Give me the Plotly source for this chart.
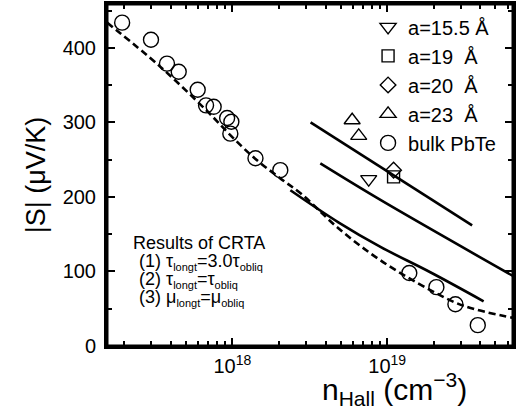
import plotly.graph_objects as go

# ---------------- data ----------------
# bulk PbTe
bulk_n = [1.94e17, 2.98e17, 3.78e17, 4.5e17, 5.97e17, 6.76e17, 7.57e17, 9.25e17,
          9.85e17, 9.7e17, 1.41e18, 2.04e18, 1.39e19, 2.08e19, 2.76e19, 3.85e19]
bulk_S = [434, 411, 379, 368, 344, 323, 321, 306, 301, 285, 252, 236, 98, 79, 56, 28]

a155_n = [7.6e18]
a155_S = [224]
a19_n = [1.1e19]
a19_S = [227]
a20_n = [1.1e19]
a20_S = [236]
a23_n = [5.94e18, 6.55e18]
a23_S = [303, 282]

# CRTA calculations
crta1_n = [2.37e18, 4.84e18, 9.05e18, 1.9e19, 4.2e19]
crta1_S = [209, 166, 133, 99, 60]
crta2_n = [3.7e18, 9.05e18, 6.5e19]
crta2_S = [245, 196, 94]
crta3_n = [3.2e18, 3.54e19]
crta3_S = [300, 162]

# dashed curve (bulk theory)
fit_n = [1.55e17, 3.33e17, 6.89e17, 9.7e17, 1.41e18, 2.04e18, 2.83e18, 4.84e18,
         9.05e18, 1.9e19, 3.11e19, 6.55e19]
fit_S = [434, 377, 315, 283, 251, 225, 203, 158, 115, 75, 54, 37.6]

# axis ticks
x_tickvals = [1e18, 1e19]
x_ticktext = ["10<sup>18</sup>", "10<sup>19</sup>"]
y_tickvals = [0, 100, 200, 300, 400]

FONT = "Liberation Sans, Arial, Helvetica, sans-serif"

fig = go.Figure()

line_style = dict(color="black", width=2.6)
fig.add_trace(go.Scatter(x=fit_n, y=fit_S, mode="lines", line_shape="spline",
                         line=dict(color="black", width=2.6, dash="7px,4px"),
                         showlegend=False, hoverinfo="skip"))
fig.add_trace(go.Scatter(x=crta1_n, y=crta1_S, mode="lines", line_shape="spline",
                         line=line_style, showlegend=False))
fig.add_trace(go.Scatter(x=crta2_n, y=crta2_S, mode="lines", line_shape="spline",
                         line=line_style, showlegend=False))
fig.add_trace(go.Scatter(x=crta3_n, y=crta3_S, mode="lines",
                         line=line_style, showlegend=False))

mk_line = dict(color="black", width=1.4)
fig.add_trace(go.Scatter(x=a155_n, y=a155_S, mode="markers", name="a=15.5 Å",
                         marker=dict(symbol="triangle-down-open", size=14, color="black", line=mk_line)))
fig.add_trace(go.Scatter(x=a19_n, y=a19_S, mode="markers", name="a=19\u00a0\u00a0Å",
                         marker=dict(symbol="square-open", size=12, color="black", line=mk_line)))
fig.add_trace(go.Scatter(x=a20_n, y=a20_S, mode="markers", name="a=20\u00a0\u00a0Å",
                         marker=dict(symbol="diamond-open", size=12, color="black", line=mk_line)))
fig.add_trace(go.Scatter(x=a23_n, y=a23_S, mode="markers", name="a=23\u00a0\u00a0Å",
                         marker=dict(symbol="triangle-up-open", size=14, color="black", line=mk_line)))
fig.add_trace(go.Scatter(x=bulk_n, y=bulk_S, mode="markers", name="bulk PbTe",
                         marker=dict(symbol="circle-open", size=15, color="black", line=mk_line)))

# curve labels
for xs, ys, lab, dx, dy in [(crta3_n, crta3_S, "(3)", 1, 2),
                            (crta2_n, crta2_S, "(2)", -3, 1),
                            (crta1_n, crta1_S, "(1)", -8, -10)]:
    fig.add_annotation(x=xs[0], y=ys[0], xref="x", yref="y", text=lab, showarrow=False,
                       xanchor="right", yanchor="middle", xshift=dx, yshift=dy,
                       font=dict(family=FONT, size=19, color="black"))

# CRTA text block
SUB = '<sub><span style="font-size:11px">{}</span></sub>'
crta_lines = [
    ("Results of CRTA", 0.059, 0.301),
    ("(1) τ" + SUB.format("longt") + "=3.0τ" + SUB.format("obliq"), 0.073, 0.246),
    ("(2) τ" + SUB.format("longt") + "=τ" + SUB.format("obliq"), 0.073, 0.193),
    ("(3) μ" + SUB.format("longt") + "=μ" + SUB.format("obliq"), 0.073, 0.141),
]
for txt, xp, yp in crta_lines:
    fig.add_annotation(x=xp, y=yp, xref="paper", yref="paper", text=txt, showarrow=False,
                       xanchor="left", yanchor="middle",
                       font=dict(family=FONT, size=18, color="black"))

# x-axis title (off-centre in the reference)
fig.add_annotation(x=0.707, y=-0.125, xref="paper", yref="paper",
                   text="n<sub>Hall</sub> (cm<sup>−3</sup>)", showarrow=False,
                   xanchor="center", yanchor="middle",
                   font=dict(family=FONT, size=30, color="black"))

# heavy frame around the plotting area
fig.add_shape(type="rect", xref="paper", yref="paper", x0=0, y0=0, x1=1, y1=1,
              line=dict(color="black", width=3), layer="above")

axis_common = dict(showline=True, linecolor="#000000", mirror="allticks",
                   ticks="inside", ticklen=8, tickwidth=2, tickcolor="#000000",
                   showgrid=False, zeroline=False, layer="above traces",
                   tickfont=dict(family=FONT, size=20, color="black"))

fig.update_layout(
    width=521, height=416,
    margin=dict(l=107, r=8, t=4, b=70, autoexpand=False),
    paper_bgcolor="white", plot_bgcolor="white",
    font=dict(family=FONT, color="black"),
    xaxis=dict(type="log", range=[17.19, 19.813], linewidth=3,
               tickmode="array", tickvals=x_tickvals, ticktext=x_ticktext,
               minor=dict(ticks="inside", ticklen=5, tickwidth=1.5, tickcolor="#000000",
                          dtick="D1"),
               **axis_common),
    yaxis=dict(range=[0, 459], linewidth=3, tickmode="array", tickvals=y_tickvals,
               ticklabelstandoff=4,
               minor=dict(ticks="inside", ticklen=5, tickwidth=1.5, tickcolor="#000000",
                          tickmode="linear", tick0=0, dtick=50),
               title=dict(text="|S| (μV/K)", standoff=10,
                          font=dict(family=FONT, size=27, color="black")),
               **axis_common),
    legend=dict(x=0.643, y=0.99, xanchor="left", yanchor="top",
                bgcolor="rgba(0,0,0,0)", itemwidth=30, tracegroupgap=0,
                font=dict(family=FONT, size=20, color="black")),
)

fig.write_html("out.html", config={"displayModeBar": False},
               post_script="document.body.style.margin='0px';")
